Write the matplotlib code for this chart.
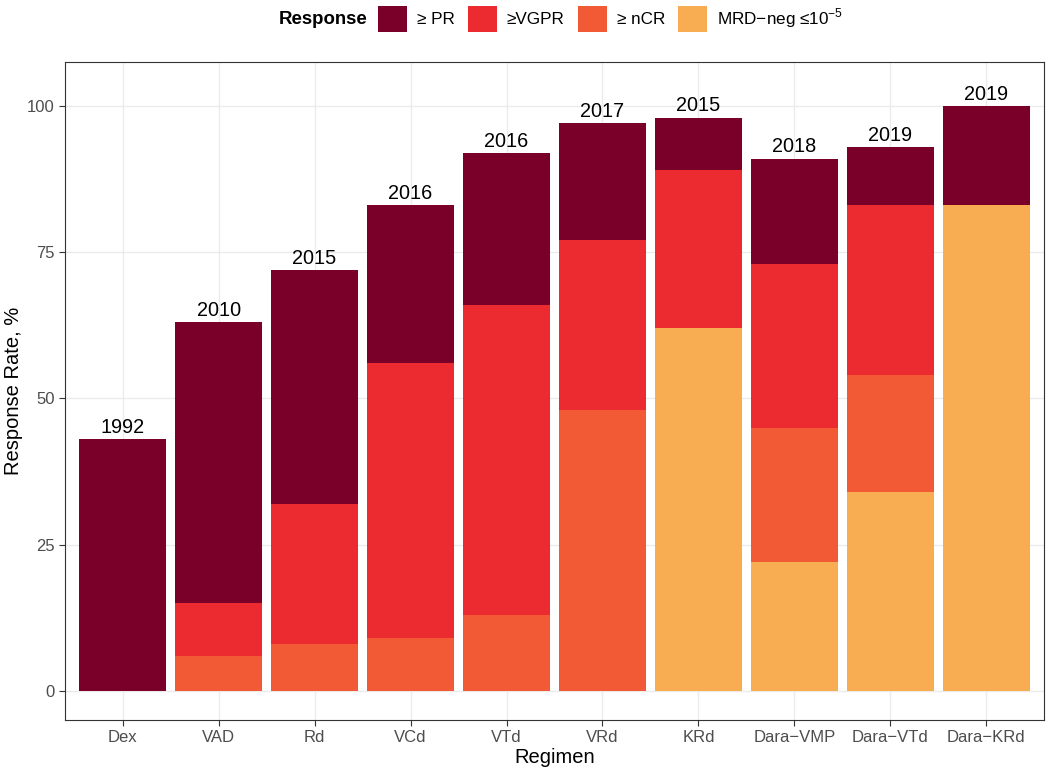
import matplotlib
matplotlib.use("Agg")
import matplotlib.pyplot as plt
import numpy as np
from matplotlib.patches import Patch

plt.rcParams['font.family'] = ['Liberation Sans', 'DejaVu Sans']
plt.rcParams['mathtext.fontset'] = 'custom'
plt.rcParams['mathtext.rm'] = 'Liberation Sans'

regimens = ["Dex", "VAD", "Rd", "VCd", "VTd", "VRd", "KRd", "Dara\u2212VMP", "Dara\u2212VTd", "Dara\u2212KRd"]
years = ["1992", "2010", "2015", "2016", "2016", "2017", "2015", "2018", "2019", "2019"]
pr = [43, 63, 72, 83, 92, 97, 98, 91, 93, 100]
vgpr = [np.nan, 15, 32, 56, 66, 77, 89, 73, 83, np.nan]
ncr = [np.nan, 6, 8, 9, 13, 48, np.nan, 45, 54, np.nan]
mrd = [np.nan, np.nan, np.nan, np.nan, np.nan, np.nan, 62, 22, 34, 83]

series_labels = ["\u2265 PR", "\u2265VGPR", "\u2265 nCR", "MRD\u2212neg \u226410$^{\u22125}$"]
colors = ["#7A0029", "#EC2B30", "#F15A35", "#F9AD53"]

fig = plt.figure(figsize=(10.5, 7.72), dpi=100)
ax = fig.add_axes([65/1050, 1-720/772, (1044-65)/1050, (720-62)/772])

x = np.arange(len(regimens))
for vals, c in zip([pr, vgpr, ncr, mrd], colors):
    v = np.array(vals, dtype=float)
    m = ~np.isnan(v)
    ax.bar(x[m], v[m], width=0.9, color=c, zorder=2)

for xi, yi, lab in zip(x, pr, years):
    ax.annotate(lab, (xi, yi), xytext=(0, 1.5), textcoords='offset points',
                ha='center', va='bottom', fontsize=14.3, color='black', zorder=3)

ax.set_xlim(-0.6, len(regimens) - 0.4)
ax.set_ylim(-5, 107.5)
ax.set_yticks([0, 25, 50, 75, 100])
ax.set_xticks(x)
ax.set_xticklabels(regimens)
ax.grid(True, color='#EBEBEB', linewidth=1.0, zorder=0)
ax.set_axisbelow(True)
for s in ax.spines.values():
    s.set_color('#333333')
    s.set_linewidth(0.8)
ax.tick_params(axis='both', colors='#333333', length=4, width=0.8, labelsize=12, labelcolor='#4D4D4D')
ax.set_xlabel("Regimen", fontsize=14.5, labelpad=2)
ax.set_ylabel("Response Rate, %", fontsize=14.5, labelpad=3)

handles = [Patch(facecolor=c, edgecolor='none') for c in colors]
fig.legend(handles, series_labels, ncol=4, loc='center left', bbox_to_anchor=(369/1050, 1-19/772),
           frameon=False, fontsize=12.3, handlelength=1.7, handleheight=2.0, borderpad=0,
           columnspacing=0.75, handletextpad=0.6)
fig.text(367/1050, 1-19/772, "Response", fontsize=13.4, fontweight='bold', ha='right', va='center')

fig.savefig("out.png", dpi=100)
